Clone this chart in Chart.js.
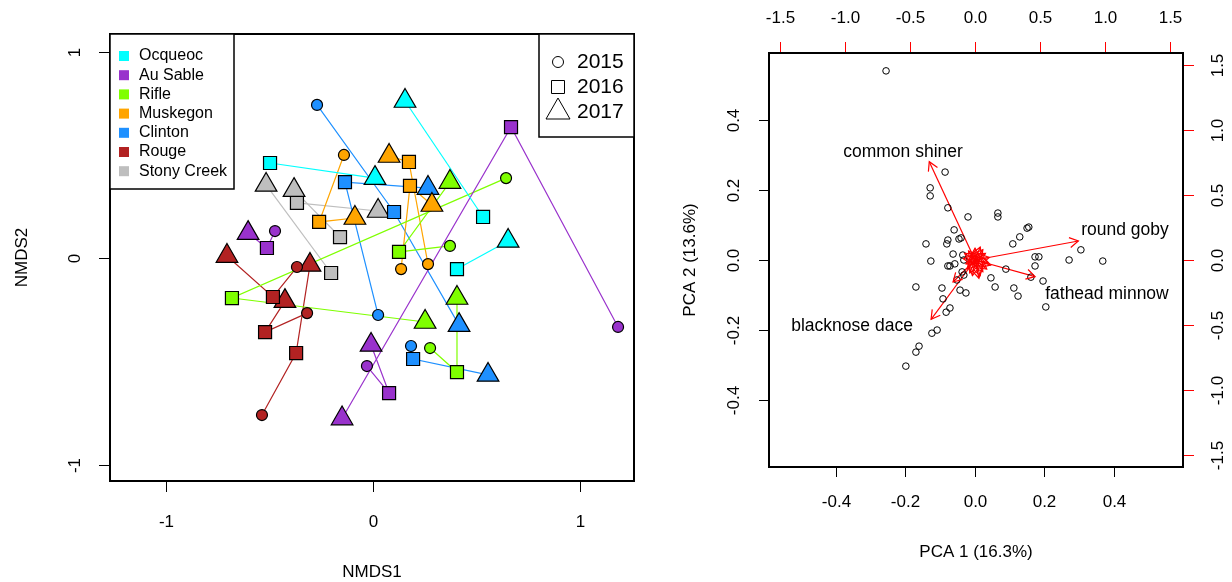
<!DOCTYPE html>
<html>
<head>
<meta charset="utf-8">
<script src="https://cdn.jsdelivr.net/npm/chart.js@4"></script>
<style>
body { margin: 0; background: #fff; width: 1232px; height: 582px; overflow: hidden; position: relative; }
#nmds { position: absolute; left: 0; top: 0; }
#pca { position: absolute; left: 640px; top: 0; }
</style>
</head>
<body>
<canvas id="nmds" width="640" height="582"></canvas>
<canvas id="pca" width="592" height="582"></canvas>
<script>
// ---- NMDS data (one row per site, columns = years) ----
const rivers = ['Ocqueoc', 'Au Sable', 'Rifle', 'Muskegon', 'Clinton', 'Rouge', 'Stony Creek'];
const years = ['2015', '2016', '2017'];
const siteRiver = [0, 0, 0, 1, 1, 1, 2, 2, 2, 3, 3, 3, 4, 4, 4, 5, 5, 5, 6, 6, 6];
const nmds1 = [
    [null, -0.496, 0.011], [null, 0.533, 0.156], [null, 0.407, 0.654],
    [-0.472, -0.511, -0.602], [1.185, 0.668, -0.148], [-0.028, 0.079, -0.008],
    [0.644, -0.680, 0.253], [0.373, 0.127, 0.373], [0.277, 0.407, 0.407],
    [-0.139, -0.259, -0.086], [0.267, 0.175, 0.079], [0.137, 0.180, 0.286],
    [-0.269, 0.103, 0.417], [0.026, -0.134, 0.267], [0.185, 0.195, 0.557],
    [-0.366, -0.482, -0.704], [-0.535, -0.370, -0.303], [-0.317, -0.520, -0.424],
    [null, -0.201, -0.515], [null, -0.158, -0.380], [null, -0.366, 0.026]
];
const nmds2 = [
    [null, 0.461, 0.388], [null, 0.200, 0.761], [null, -0.052, 0.084],
    [0.132, 0.050, 0.122], [-0.332, 0.635, -0.775], [-0.521, -0.652, -0.419],
    [0.388, -0.192, -0.308], [0.060, 0.031, 0.369], [-0.434, -0.550, -0.192],
    [0.500, 0.176, 0.195], [-0.028, 0.466, 0.495], [-0.052, 0.350, 0.258],
    [0.742, 0.224, -0.323], [-0.274, 0.369, 0.340], [-0.424, -0.487, -0.564],
    [-0.042, -0.187, 0.011], [-0.758, -0.458, -0.032], [-0.265, -0.357, -0.207],
    [null, -0.071, 0.355], [null, 0.103, 0.330], [null, 0.268, 0.229]
];
const nmdsTicks = [-1, 0, 1];

// ---- PCA data ----
const pc1Scores = [-0.256, -0.086, -0.129, -0.129, -0.078, -0.020, 0.066, 0.066, -0.060, -0.040,
    -0.046, -0.078, -0.081, -0.141, -0.063, -0.127, -0.078, -0.072, -0.058, -0.037,
    -0.032, -0.052, -0.170, -0.095, -0.043, -0.026, -0.092, -0.072, -0.083, -0.109,
    -0.124, -0.161, -0.170, -0.199, 0.046, 0.058, 0.109, 0.129, 0.150, 0.155,
    0.089, 0.112, 0.124, 0.173, 0.184, 0.173, 0.271, 0.305, 0.368, 0.161,
    0.196, 0.204, -0.035, -0.032];
const pc2Scores = [0.540, 0.251, 0.206, 0.183, 0.149, 0.123, 0.134, 0.123, 0.086, 0.063,
    0.060, 0.057, 0.046, 0.046, 0.017, -0.003, -0.017, -0.017, -0.011, -0.034,
    -0.043, -0.057, -0.077, -0.080, -0.086, -0.094, -0.111, -0.137, -0.149, -0.200,
    -0.209, -0.246, -0.263, -0.303, -0.051, -0.077, 0.046, 0.066, 0.091, 0.094,
    -0.026, -0.080, -0.103, 0.009, 0.009, -0.017, 0.000, 0.029, -0.003, -0.049,
    -0.060, -0.134, 0.014, 0.000];
// species loadings (arrow tips, top/right scale)
const loadPC1 = [-0.352, 0.795, 0.462, -0.338, -0.169,
    0.08, 0.10, 0.06, 0.03, -0.02, -0.06, -0.09, -0.05, 0.00, 0.04, 0.11, 0.07,
    -0.03, 0.05, -0.07, 0.02, 0.09, -0.04, 0.06, -0.08, 0.12, 0.01, -0.05, 0.04];
const loadPC2 = [0.756, 0.146, -0.128, -0.456, -0.169,
    0.05, -0.02, -0.09, -0.14, -0.12, -0.07, 0.01, 0.07, 0.09, 0.10, 0.02, -0.05,
    0.05, 0.03, -0.03, -0.06, -0.07, -0.10, 0.08, 0.05, -0.04, 0.04, -0.02, -0.12];
const species = ['common shiner', 'round goby', 'fathead minnow', 'blacknose dace'];
const labelPC1 = [-0.554, 1.154, 1.015, -0.946];
const labelPC2 = [0.831, 0.231, -0.262, -0.508];
const pcaTicks = [-0.4, -0.2, 0, 0.2, 0.4];
const loadTicks = [-1.5, -1, -0.5, 0, 0.5, 1, 1.5];

// ---- styles ----
const riverColors = ['#00FFFF', '#9932CC', '#7FFF00', '#FFA500', '#1E90FF', '#B22222', '#BEBEBE'];
const yearShapes = ['circle', 'rect', 'triangle'];
const yearRadius = [5.5, 9.2, 12.5];
const FONT = '"Liberation Sans", Arial, sans-serif';

function text(ctx, str, x, y, size, rot, align) {
    ctx.save();
    ctx.translate(x, y);
    if (rot) ctx.rotate(rot);
    ctx.font = size + 'px ' + FONT;
    ctx.fillStyle = '#000';
    ctx.textAlign = align || 'center';
    ctx.textBaseline = 'middle';
    ctx.fillText(str, 0, 0);
    ctx.restore();
}

// ---- left chart: NMDS ----
const lineSets = [];
const pointSets = [];
siteRiver.forEach((r, i) => {
    const pts = [], styles = [], radii = [];
    years.forEach((yr, j) => {
        if (nmds1[i][j] === null) return;
        pts.push({ x: nmds1[i][j], y: nmds2[i][j] });
        styles.push(yearShapes[j]);
        radii.push(yearRadius[j]);
    });
    lineSets.push({
        data: pts, showLine: true, borderColor: riverColors[r], borderWidth: 1.2,
        pointRadius: 0, order: 2
    });
    pointSets.push({
        data: pts, showLine: false, pointStyle: styles, pointRadius: radii,
        pointBackgroundColor: riverColors[r], pointBorderColor: '#000', pointBorderWidth: 1.2,
        order: 1
    });
});

const nmdsFrame = {
    id: 'nmdsFrame',
    afterDraw(chart) {
        const ctx = chart.ctx, ca = chart.chartArea;
        const xs = chart.scales.x, ys = chart.scales.y;
        ctx.save();
        ctx.strokeStyle = '#000';
        ctx.lineWidth = 1;
        nmdsTicks.forEach(v => {
            const px = Math.round(xs.getPixelForValue(v)) + 0.5;
            ctx.beginPath(); ctx.moveTo(px, ca.bottom); ctx.lineTo(px, ca.bottom + 11); ctx.stroke();
            text(ctx, String(v), px, ca.bottom + 41, 17);
            const py = Math.round(ys.getPixelForValue(v)) + 0.5;
            ctx.beginPath(); ctx.moveTo(ca.left, py); ctx.lineTo(ca.left - 11, py); ctx.stroke();
            text(ctx, String(v), ca.left - 35, py, 17, -Math.PI / 2);
        });
        ctx.lineWidth = 2;
        ctx.strokeRect(ca.left, ca.top, ca.right - ca.left, ca.bottom - ca.top);
        text(ctx, 'NMDS1', (ca.left + ca.right) / 2, 572, 17);
        text(ctx, 'NMDS2', 22, (ca.top + ca.bottom) / 2, 17, -Math.PI / 2);

        // river legend
        ctx.fillStyle = '#fff';
        ctx.fillRect(ca.left, ca.top, 124, 155);
        ctx.lineWidth = 1.5;
        ctx.strokeRect(ca.left, ca.top, 124, 155);
        rivers.forEach((name, i) => {
            const y = ca.top + 22 + i * 19.2;
            ctx.fillStyle = riverColors[i];
            ctx.fillRect(ca.left + 9, y - 5, 10, 10);
            text(ctx, name, ca.left + 29, y, 16, 0, 'left');
        });
        // year legend
        const lx = ca.right - 95, ly = ca.top;
        ctx.fillStyle = '#fff';
        ctx.fillRect(lx, ly, 95, 103);
        ctx.lineWidth = 1.5;
        ctx.strokeRect(lx, ly, 95, 103);
        ctx.lineWidth = 1;
        years.forEach((yr, j) => {
            const y = ly + 28 + j * 25;
            const cx = lx + 19;
            ctx.beginPath();
            if (j === 0) ctx.arc(cx, y, 5.5, 0, Math.PI * 2);
            if (j === 1) ctx.rect(cx - 6.5, y - 6.5, 13, 13);
            if (j === 2) { ctx.moveTo(cx, y - 14); ctx.lineTo(cx + 12, y + 7); ctx.lineTo(cx - 12, y + 7); ctx.closePath(); }
            ctx.stroke();
            text(ctx, yr, lx + 38, y, 21, 0, 'left');
        });
        ctx.restore();
    }
};

new Chart(document.getElementById('nmds').getContext('2d'), {
    type: 'scatter',
    data: { datasets: pointSets.concat(lineSets) },
    options: {
        responsive: false,
        animation: false,
        events: [],
        layout: { autoPadding: false, padding: { left: 110, right: 6, top: 34, bottom: 101 } },
        plugins: { legend: { display: false }, tooltip: { enabled: false } },
        scales: {
            x: { type: 'linear', min: -1.269, max: 1.262, display: false },
            y: { type: 'linear', min: -1.077, max: 1.085, display: false }
        }
    },
    plugins: [nmdsFrame]
});

// ---- right chart: PCA biplot ----
const scorePts = pc1Scores.map((v, i) => ({ x: v, y: pc2Scores[i] }));
const arrowSets = loadPC1.map((v, i) => ({
    data: [{ x: 0, y: 0 }, { x: v, y: loadPC2[i] }],
    xAxisID: 'x2', yAxisID: 'y2',
    showLine: true, borderColor: '#FF0000', borderWidth: 1.2, pointRadius: 0
}));

const pcaFrame = {
    id: 'pcaFrame',
    afterDatasetsDraw(chart) {
        const ctx = chart.ctx;
        const x2 = chart.scales.x2, y2 = chart.scales.y2;
        ctx.save();
        ctx.strokeStyle = '#FF0000';
        ctx.lineWidth = 1.2;
        loadPC1.forEach((v, i) => {
            const x0 = x2.getPixelForValue(0), y0 = y2.getPixelForValue(0);
            const x1 = x2.getPixelForValue(v), y1 = y2.getPixelForValue(loadPC2[i]);
            const a = Math.atan2(y1 - y0, x1 - x0), L = 10;
            ctx.beginPath();
            ctx.moveTo(x1 - L * Math.cos(a - Math.PI / 6), y1 - L * Math.sin(a - Math.PI / 6));
            ctx.lineTo(x1, y1);
            ctx.lineTo(x1 - L * Math.cos(a + Math.PI / 6), y1 - L * Math.sin(a + Math.PI / 6));
            ctx.stroke();
        });
        species.forEach((s, i) => {
            text(ctx, s, x2.getPixelForValue(labelPC1[i]), y2.getPixelForValue(labelPC2[i]), 17.5);
        });
        ctx.restore();
    },
    afterDraw(chart) {
        const ctx = chart.ctx, ca = chart.chartArea;
        const xs = chart.scales.x, ys = chart.scales.y, x2 = chart.scales.x2, y2 = chart.scales.y2;
        ctx.save();
        ctx.lineWidth = 1;
        ctx.strokeStyle = '#000';
        pcaTicks.forEach(v => {
            const px = Math.round(xs.getPixelForValue(v)) + 0.5;
            ctx.beginPath(); ctx.moveTo(px, ca.bottom); ctx.lineTo(px, ca.bottom + 10); ctx.stroke();
            text(ctx, v.toFixed(1), px, ca.bottom + 35, 17);
            const py = Math.round(ys.getPixelForValue(v)) + 0.5;
            ctx.beginPath(); ctx.moveTo(ca.left, py); ctx.lineTo(ca.left - 10, py); ctx.stroke();
            text(ctx, v.toFixed(1), ca.left - 35, py, 17, -Math.PI / 2);
        });
        ctx.strokeStyle = '#FF0000';
        loadTicks.forEach(v => {
            const px = Math.round(x2.getPixelForValue(v)) + 0.5;
            ctx.beginPath(); ctx.moveTo(px, ca.top); ctx.lineTo(px, ca.top - 11); ctx.stroke();
            text(ctx, v.toFixed(1), px, ca.top - 35, 17);
            const py = Math.round(y2.getPixelForValue(v)) + 0.5;
            ctx.beginPath(); ctx.moveTo(ca.right, py); ctx.lineTo(ca.right + 11, py); ctx.stroke();
            text(ctx, v.toFixed(1), ca.right + 35, py, 17, -Math.PI / 2);
        });
        ctx.strokeStyle = '#000';
        ctx.lineWidth = 2;
        ctx.strokeRect(ca.left, ca.top, ca.right - ca.left, ca.bottom - ca.top);
        text(ctx, 'PCA 1 (16.3%)', (ca.left + ca.right) / 2, 552, 17);
        text(ctx, 'PCA 2 (13.6%)', 50, (ca.top + ca.bottom) / 2, 17, -Math.PI / 2);
        ctx.restore();
    }
};

new Chart(document.getElementById('pca').getContext('2d'), {
    type: 'scatter',
    data: {
        datasets: [{
            data: scorePts, pointStyle: 'circle', pointRadius: 3.3,
            pointBackgroundColor: 'rgba(0,0,0,0)', pointBorderColor: '#000', pointBorderWidth: 1
        }].concat(arrowSets)
    },
    options: {
        responsive: false,
        animation: false,
        events: [],
        layout: { autoPadding: false, padding: { left: 129, right: 49, top: 53, bottom: 115 } },
        plugins: { legend: { display: false }, tooltip: { enabled: false } },
        scales: {
            x: { type: 'linear', min: -0.593, max: 0.599, display: false },
            y: { type: 'linear', min: -0.591, max: 0.591, display: false },
            x2: { type: 'linear', min: -1.585, max: 1.6, display: false },
            y2: { type: 'linear', min: -1.592, max: 1.592, display: false }
        }
    },
    plugins: [pcaFrame]
});
</script>
</body>
</html>
